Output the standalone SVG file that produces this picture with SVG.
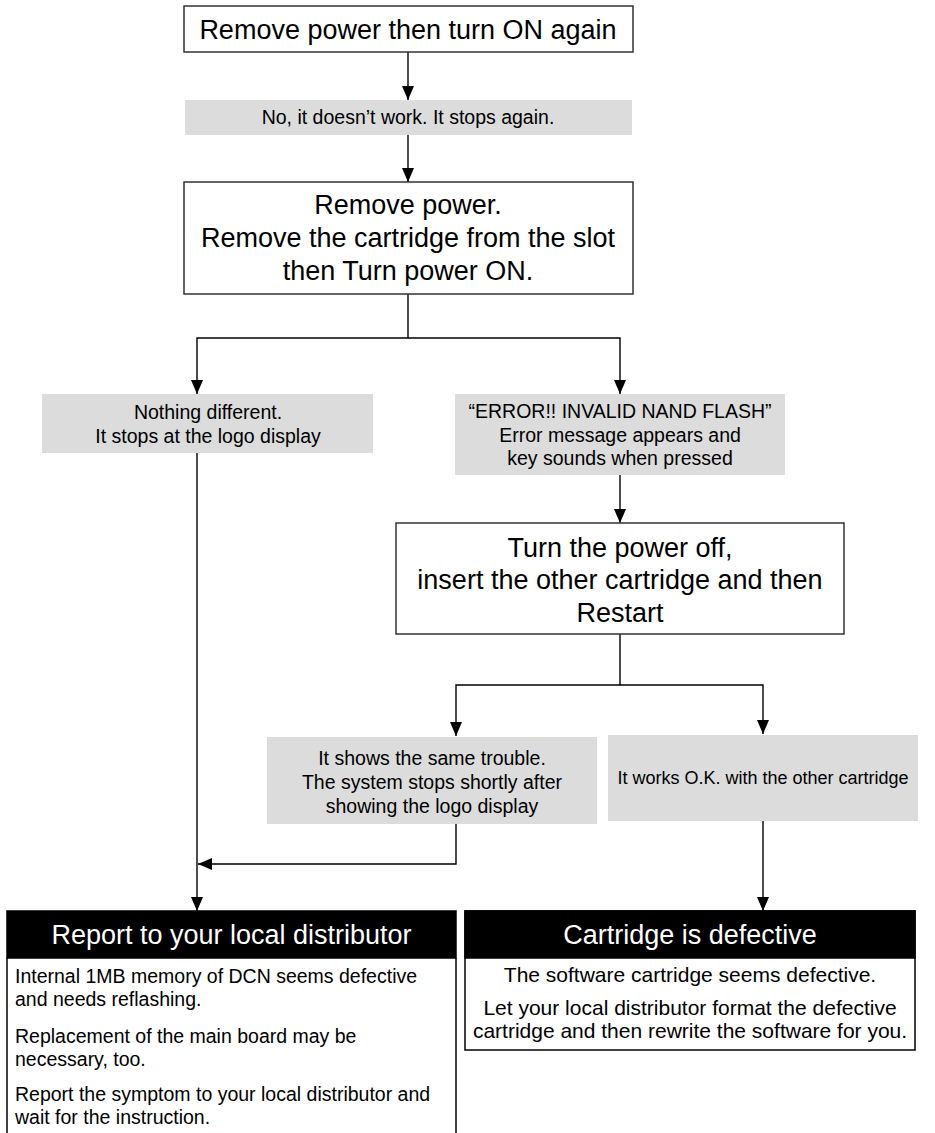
<svg xmlns="http://www.w3.org/2000/svg" width="935" height="1133" viewBox="0 0 935 1133">
<defs>
<style>
.box{fill:#fff;stroke:#333;stroke-width:1.5}
.gray{fill:#dcdcdc;stroke:none}
.big{font-family:"Liberation Sans",Arial,sans-serif;font-size:27px;fill:#000;text-anchor:middle}
.mid{font-family:"Liberation Sans",Arial,sans-serif;font-size:19.5px;fill:#000;text-anchor:middle}
.body{font-family:"Liberation Sans",Arial,sans-serif;font-size:19.5px;fill:#000}
.hdr{fill:#000;stroke:#000;stroke-width:1.5}
.white{fill:#fff}
.conn{fill:none;stroke:#000;stroke-width:1.4}
</style>
<marker id="arr" markerUnits="userSpaceOnUse" markerWidth="14" markerHeight="12" viewBox="0 0 14 12" refX="14" refY="6" orient="auto">
<path d="M0,0 L14,6 L0,12 Z" fill="#000"/>
</marker>
</defs>
<rect width="935" height="1133" fill="#fff"/>

<g id="connectors">
<path class="conn" d="M408,52 V100" marker-end="url(#arr)"/>
<path class="conn" d="M408,135 V182" marker-end="url(#arr)"/>
<path class="conn" d="M408,294 V338 H197 V394" marker-end="url(#arr)"/>
<path class="conn" d="M408,338 H620 V394" marker-end="url(#arr)"/>
<path class="conn" d="M197,453 V911" marker-end="url(#arr)"/>
<path class="conn" d="M620,475 V523" marker-end="url(#arr)"/>
<path class="conn" d="M620,634 V685 H456 V736" marker-end="url(#arr)"/>
<path class="conn" d="M620,685 H763 V734" marker-end="url(#arr)"/>
<path class="conn" d="M456,824 V864 H198" marker-end="url(#arr)"/>
<path class="conn" d="M763,821 V911" marker-end="url(#arr)"/>
</g>

<g id="n1">
<rect class="box" x="184" y="6" width="449" height="46"/>
<text class="big" x="408" y="39">Remove power then turn ON again</text>
</g>

<g id="n2">
<rect class="gray" x="185" y="100" width="447" height="35"/>
<text class="mid" x="408" y="124">No, it doesn’t work. It stops again.</text>
</g>

<g id="n3">
<rect class="box" x="184" y="182" width="449" height="112"/>
<text class="big" x="408" y="214">Remove power.</text>
<text class="big" x="408" y="247">Remove the cartridge from the slot</text>
<text class="big" x="408" y="280">then Turn power ON.</text>
</g>

<g id="n4">
<rect class="gray" x="42" y="394" width="331" height="59"/>
<text class="mid" x="208" y="419">Nothing different.</text>
<text class="mid" x="208" y="443">It stops at the logo display</text>
</g>

<g id="n5">
<rect class="gray" x="455" y="394" width="330" height="81"/>
<text class="mid" x="620" y="418">“ERROR!! INVALID NAND FLASH”</text>
<text class="mid" x="620" y="441.5">Error message appears and</text>
<text class="mid" x="620" y="465">key sounds when pressed</text>
</g>

<g id="n6">
<rect class="box" x="396" y="523" width="448" height="111"/>
<text class="big" x="620" y="556.5">Turn the power off,</text>
<text class="big" x="620" y="589">insert the other cartridge and then</text>
<text class="big" x="620" y="622">Restart</text>
</g>

<g id="n7">
<rect class="gray" x="267" y="737" width="330" height="87"/>
<text class="mid" x="432" y="765">It shows the same trouble.</text>
<text class="mid" x="432" y="789">The system stops shortly after</text>
<text class="mid" x="432" y="813">showing the logo display</text>
</g>

<g id="n8">
<rect class="gray" x="608" y="735" width="310" height="86"/>
<text class="mid" x="763" y="784" style="font-size:18px">It works O.K. with the other cartridge</text>
</g>

<g id="n9">
<path d="M7,958 V1140 M456,958 V1140" fill="none" stroke="#000" stroke-width="1.5"/>
<rect class="hdr" x="7" y="911" width="449" height="47"/>
<text class="big white" x="231.5" y="944">Report to your local distributor</text>
<text class="body" x="15" y="983">Internal 1MB memory of DCN seems defective</text>
<text class="body" x="15" y="1006">and needs reflashing.</text>
<text class="body" x="15" y="1043">Replacement of the main board may be</text>
<text class="body" x="15" y="1066">necessary, too.</text>
<text class="body" x="15" y="1101">Report the symptom to your local distributor and</text>
<text class="body" x="15" y="1124">wait for the instruction.</text>
</g>

<g id="n10">
<rect class="box" x="465" y="911" width="450" height="139" style="stroke:#000"/>
<rect class="hdr" x="465" y="911" width="450" height="47"/>
<text class="big white" x="690" y="944">Cartridge is defective</text>
<text class="mid" x="690" y="982" style="font-size:21px">The software cartridge seems defective.</text>
<text class="mid" x="690" y="1015" style="font-size:21px">Let your local distributor format the defective</text>
<text class="mid" x="690" y="1038" style="font-size:21px">cartridge and then rewrite the software for you.</text>
</g>
</svg>
